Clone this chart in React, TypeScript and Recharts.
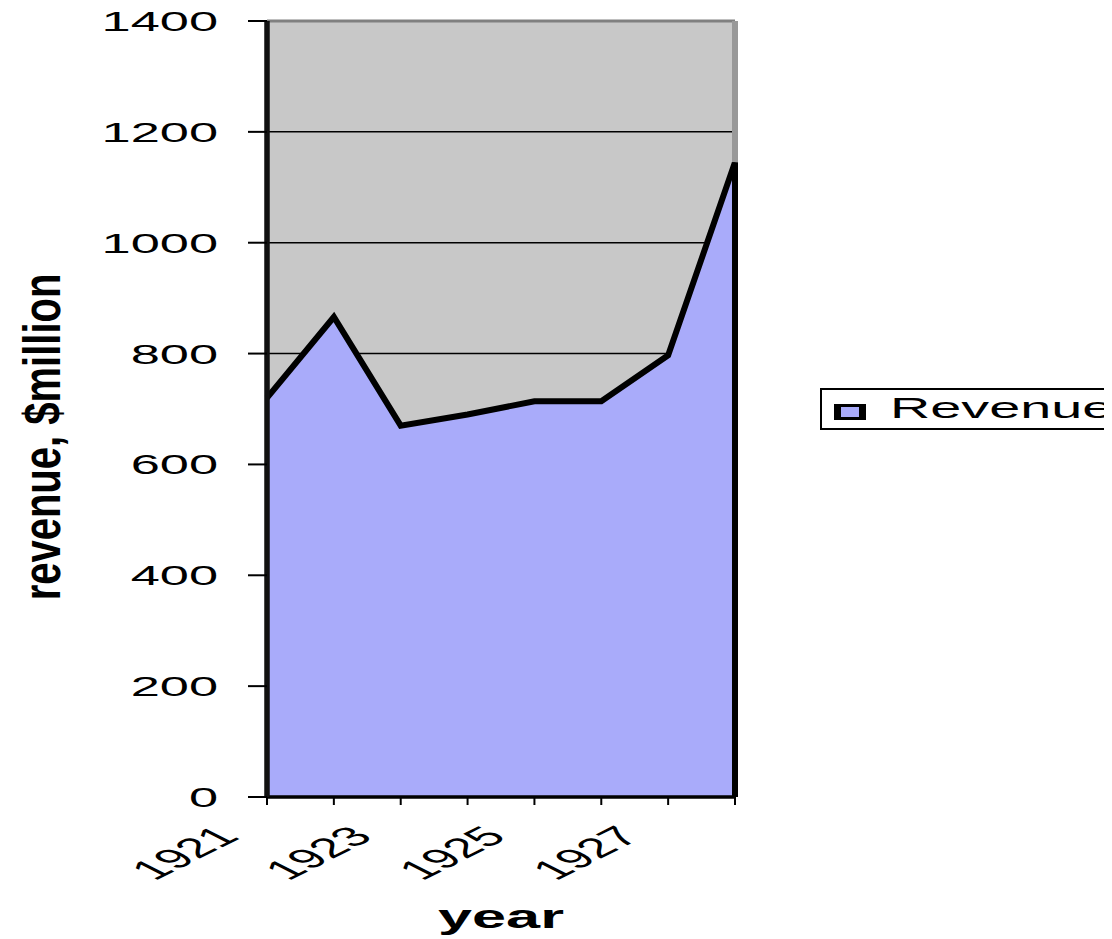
import React from 'react';
import {
  AreaChart,
  Area,
  XAxis,
  YAxis,
  CartesianGrid,
  ReferenceLine,
  Legend,
} from 'recharts';

const years = ['1921', '1922', '1923', '1924', '1925', '1926', '1927', '1928'];
const revenue = [720, 866, 670, 690, 714, 714, 797, 1145];
const yTicks = [0, 200, 400, 600, 800, 1000, 1200, 1400];
const xLabelYears = ['1921', '1923', '1925', '1927'];
const seriesName = 'Revenue';
const xTitle = 'year';
const yTitle = 'revenue, $million';

const data = years.map((year, i) => ({ year, revenue: revenue[i] }));

const FONT = '"Liberation Sans", Arial, sans-serif';
const FILL = '#a9abfa';
const PLOT_BG = '#c8c8c8';

const YTick = (props: any) => {
  const { x, y, payload } = props;
  return (
    <text
      transform={`translate(${x},${y + 10}) scale(1.87,1)`}
      textAnchor="end"
      fontFamily={FONT}
      fontSize={28}
      fill="#000"
    >
      {payload.value}
    </text>
  );
};

const XTick = (props: any) => {
  const { x, y, payload } = props;
  if (!xLabelYears.includes(String(payload.value))) return <g />;
  return (
    <text
      transform={`translate(${x - 26},${y + 33}) scale(2.0,1) rotate(-45)`}
      textAnchor="end"
      fontFamily={FONT}
      fontSize={27.5}
      fill="#000"
    >
      {payload.value}
    </text>
  );
};

const XTitle = (props: any) => {
  const vb = props.viewBox || {};
  const cx = vb.x + vb.width / 2;
  return (
    <text
      transform={`translate(${cx},${vb.y + 131}) scale(1.8,1)`}
      textAnchor="middle"
      fontFamily={FONT}
      fontWeight="bold"
      fontSize={34}
      fill="#000"
    >
      {xTitle}
    </text>
  );
};

const YTitle = (props: any) => {
  const vb = props.viewBox || {};
  const cy = vb.y + vb.height / 2 + 28;
  return (
    <text
      transform={`translate(${vb.x + 52},${cy}) scale(1.3,1) rotate(-90)`}
      textAnchor="middle"
      fontFamily={FONT}
      fontWeight="bold"
      fontSize={40}
      fill="#000"
    >
      {yTitle}
    </text>
  );
};

const LegendContent = (props: any) => {
  const payload = props.payload || [];
  const label = payload.length ? payload[0].value : seriesName;
  return (
    <svg width={292} height={60} style={{ overflow: 'hidden', display: 'block' }}>
      <rect x={1} y={9} width={400} height={40} fill="#fff" stroke="#000" strokeWidth={2} />
      <rect x={14} y={24} width={32} height={16} fill="#000" />
      <rect x={21} y={27} width={18} height={10} fill={FILL} />
      <text
        transform="translate(70,38) scale(1.86,1)"
        fontFamily={FONT}
        fontSize={30}
        fill="#000"
      >
        {label}
      </text>
    </svg>
  );
};

export default function App() {
  return (
    <div style={{ width: 1104, height: 931 }}>
      <AreaChart
        width={1104}
        height={931}
        data={data}
        margin={{ top: 13, right: 377, bottom: 0, left: 0 }}
      >
        <CartesianGrid
          vertical={false}
          stroke="#000"
          strokeWidth={1.5}
          fill={PLOT_BG}
          fillOpacity={1}
        />
        <XAxis
          dataKey="year"
          type="category"
          interval={0}
          height={142}
          tickSize={8}
          tickMargin={0}
          tick={<XTick />}
          axisLine={{ stroke: '#000', strokeWidth: 3 }}
          tickLine={{ stroke: '#000', strokeWidth: 2 }}
          label={<XTitle />}
        />
        <YAxis
          type="number"
          domain={[0, 1400]}
          ticks={yTicks}
          interval={0}
          width={259}
          tickSize={19}
          tickMargin={30}
          tick={<YTick />}
          axisLine={{ stroke: '#111', strokeWidth: 5 }}
          tickLine={{ stroke: '#000', strokeWidth: 2 }}
          label={<YTitle />}
        />
        <Area
          type="linear"
          dataKey="revenue"
          name={seriesName}
          fill={FILL}
          fillOpacity={1}
          stroke="#000"
          strokeWidth={6}
          strokeLinejoin="miter"
          dot={false}
          activeDot={false}
          isAnimationActive={false}
        />
        <ReferenceLine y={yTicks[yTicks.length - 1]} stroke="#808080" strokeWidth={3} />
        <ReferenceLine y={0} stroke="#000" strokeWidth={3} />
        <ReferenceLine
          segment={[
            { x: years[0], y: 0 },
            { x: years[0], y: yTicks[yTicks.length - 1] },
          ]}
          stroke="#111"
          strokeWidth={5}
        />
        <ReferenceLine
          segment={[
            { x: years[years.length - 1], y: revenue[revenue.length - 1] },
            { x: years[years.length - 1], y: yTicks[yTicks.length - 1] },
          ]}
          stroke="#999"
          strokeWidth={6}
        />
        <ReferenceLine
          segment={[
            { x: years[years.length - 1], y: 0 },
            { x: years[years.length - 1], y: revenue[revenue.length - 1] },
          ]}
          stroke="#000"
          strokeWidth={6}
        />
        <Legend
          layout="horizontal"
          verticalAlign="middle"
          align="center"
          wrapperStyle={{ position: 'absolute', left: 812, top: 372, width: 292, height: 60 }}
          content={<LegendContent />}
        />
      </AreaChart>
    </div>
  );
}
